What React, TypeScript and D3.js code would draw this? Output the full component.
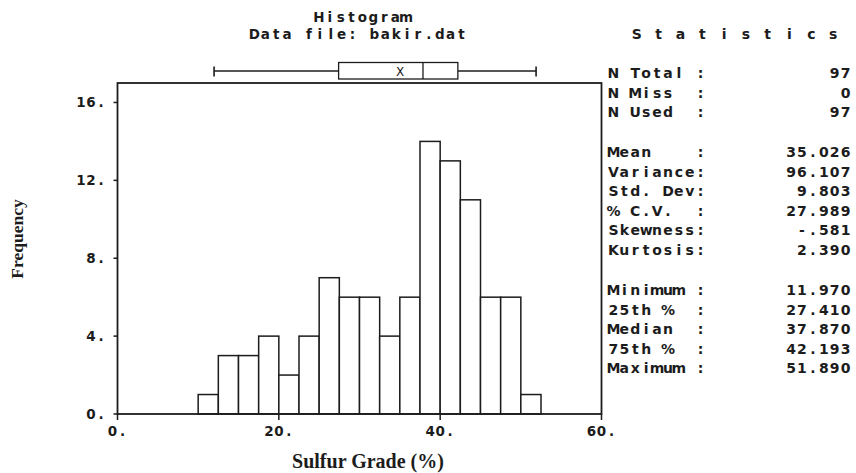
import React from "react";
import * as d3 from "d3";

// Histogram bins (lower edge, % sulfur) and their counts
const binLower = [10, 12.5, 15, 17.5, 20, 22.5, 25, 27.5, 30, 32.5, 35, 37.5, 40, 42.5, 45, 47.5, 50];
const binWidth = 2.5;
const counts = [1, 3, 3, 4, 2, 4, 7, 6, 6, 4, 6, 14, 13, 11, 6, 6, 1];

// Axis tick values
const xTicks = [0, 20, 40, 60];
const yTicks = [0, 4, 8, 12, 16];

// Summary statistics panel, grouped into blocks
const statGroup1Labels = ["N Total :", "N Miss  :", "N Used  :"];
const statGroup1Values = ["97", "0", "97"];
const statGroup2Labels = ["Mean    :", "Variance:", "Std. Dev:", "% C.V.  :", "Skewness:", "Kurtosis:"];
const statGroup2Values = ["35.026", "96.107", "9.803", "27.989", "-.581", "2.390"];
const statGroup3Labels = ["Minimum :", "25th %  :", "Median  :", "75th %  :", "Maximum :"];
const statGroup3Values = ["11.970", "27.410", "37.870", "42.193", "51.890"];

// Box-plot summary (same numbers the panel reports)
const boxMin = 11.97;
const boxQ1 = 27.41;
const boxMedian = 37.87;
const boxQ3 = 42.193;
const boxMax = 51.89;
const boxMean = 35.026;

const W = 856;
const H = 473;
const plot = { left: 117.5, right: 601.5, top: 83, bottom: 414 };

const CELL_FONT = "'DejaVu Sans', 'Noto Sans', sans-serif";
const PITCH = 10.9;
const INK = "#1c1c1c";

// Fixed-pitch text: every character is centred in its own cell, like a
// character-cell terminal font.
function Cells({ x, y, text, anchor = "start", size = 14, pitch = PITCH }: any) {
  const n = text.length;
  const width = n * pitch;
  let x0 = x;
  if (anchor === "end") x0 = x - width;
  if (anchor === "middle") x0 = x - width / 2;
  const chars = Array.from(text as string);
  return (
    <text
      y={y}
      fontFamily={CELL_FONT}
      fontWeight="bold"
      fontSize={size}
      fill={INK}
      textAnchor="middle"
    >
      {chars.map((c, i) =>
        c === " " ? null : (
          <tspan key={i} x={x0 + (i + 0.5) * pitch}>
            {c}
          </tspan>
        )
      )}
    </text>
  );
}

export default function App() {
  const x = d3.scaleLinear().domain([0, 60]).range([plot.left, plot.right]);
  const y = d3.scaleLinear().domain([0, 17]).range([plot.bottom, plot.top]);

  const boxTop = 62.5;
  const boxBottom = 79;
  const boxMid = 71;

  const rowPitch = 19.5;
  const labelX = 608;
  const valueRight = 851;
  const groups = [
    { top: 73, labels: statGroup1Labels, values: statGroup1Values },
    { top: 152, labels: statGroup2Labels, values: statGroup2Values },
    { top: 290, labels: statGroup3Labels, values: statGroup3Values },
  ];

  return (
    <svg
      width={W}
      height={H}
      viewBox={`0 0 ${W} ${H}`}
      style={{ position: "absolute", left: 0, top: 0, background: "#fff" }}
    >
      <rect x={0} y={0} width={W} height={H} fill="#fff" />

      {/* Titles */}
      <Cells x={362.5} y={22} text="Histogram" anchor="middle" size={13.5} />
      <Cells x={358} y={39} text="Data file: bakir.dat" anchor="middle" size={13.5} />
      <Cells x={735} y={38.5} text="S t a t i s t i c s" anchor="middle" size={14} />

      {/* Box plot above the histogram */}
      <g stroke={INK} strokeWidth={1.3} fill="none">
        <line x1={x(boxMin)} x2={x(boxQ1)} y1={boxMid} y2={boxMid} />
        <line x1={x(boxQ3)} x2={x(boxMax)} y1={boxMid} y2={boxMid} />
        <line x1={x(boxMin)} x2={x(boxMin)} y1={66.5} y2={76.5} strokeWidth={1.6} />
        <line x1={x(boxMax)} x2={x(boxMax)} y1={66.5} y2={76.5} strokeWidth={1.6} />
        <rect x={x(boxQ1)} y={boxTop} width={x(boxQ3) - x(boxQ1)} height={boxBottom - boxTop} fill="#fff" />
        <line x1={x(boxMedian)} x2={x(boxMedian)} y1={boxTop} y2={boxBottom} />
      </g>
      <text
        x={x(boxMean)}
        y={75.5}
        textAnchor="middle"
        fontFamily={CELL_FONT}
        fontSize={12}
        fill={INK}
      >
        X
      </text>

      {/* Histogram bars */}
      <g stroke={INK} strokeWidth={1.5} fill="#fff">
        {binLower.map((lo, i) => (
          <rect
            key={i}
            x={x(lo)}
            y={y(counts[i])}
            width={x(lo + binWidth) - x(lo)}
            height={y(0) - y(counts[i])}
          />
        ))}
      </g>

      {/* Plot frame */}
      <rect
        x={plot.left}
        y={plot.top}
        width={plot.right - plot.left}
        height={plot.bottom - plot.top}
        fill="none"
        stroke={INK}
        strokeWidth={1.8}
      />

      {/* Axis ticks */}
      <g stroke={INK} strokeWidth={1.5}>
        {yTicks.map((t) => (
          <line key={t} x1={plot.left - 4} x2={plot.left} y1={y(t)} y2={y(t)} />
        ))}
        {xTicks.map((t) => (
          <line key={t} x1={x(t)} x2={x(t)} y1={plot.bottom} y2={plot.bottom + 6} />
        ))}
      </g>
      {yTicks.map((t) => (
        <Cells key={t} x={106} y={y(t) + 5} text={`${t}.`} anchor="end" size={13.5} pitch={10} />
      ))}
      {xTicks.map((t) => (
        <Cells key={t} x={x(t)} y={436} text={`${t}.`} anchor="middle" size={13.5} pitch={10} />
      ))}

      {/* Axis titles */}
      <text
        transform={`translate(23,239) rotate(-90)`}
        textAnchor="middle"
        fontFamily="'Liberation Serif', 'DejaVu Serif', serif"
        fontWeight="bold"
        fontSize={17.5}
        fill={INK}
      >
        Frequency
      </text>
      <text
        x={368}
        y={468}
        textAnchor="middle"
        fontFamily="'Liberation Serif', 'DejaVu Serif', serif"
        fontWeight="bold"
        fontSize={20}
        fill={INK}
      >
        Sulfur Grade (%)
      </text>

      {/* Statistics panel */}
      {groups.map((g, gi) =>
        g.labels.map((lab, i) => (
          <g key={`${gi}-${i}`}>
            <Cells x={labelX} y={g.top + i * rowPitch + 5} text={lab} />
            <Cells x={valueRight} y={g.top + i * rowPitch + 5} text={g.values[i]} anchor="end" />
          </g>
        ))
      )}
    </svg>
  );
}
